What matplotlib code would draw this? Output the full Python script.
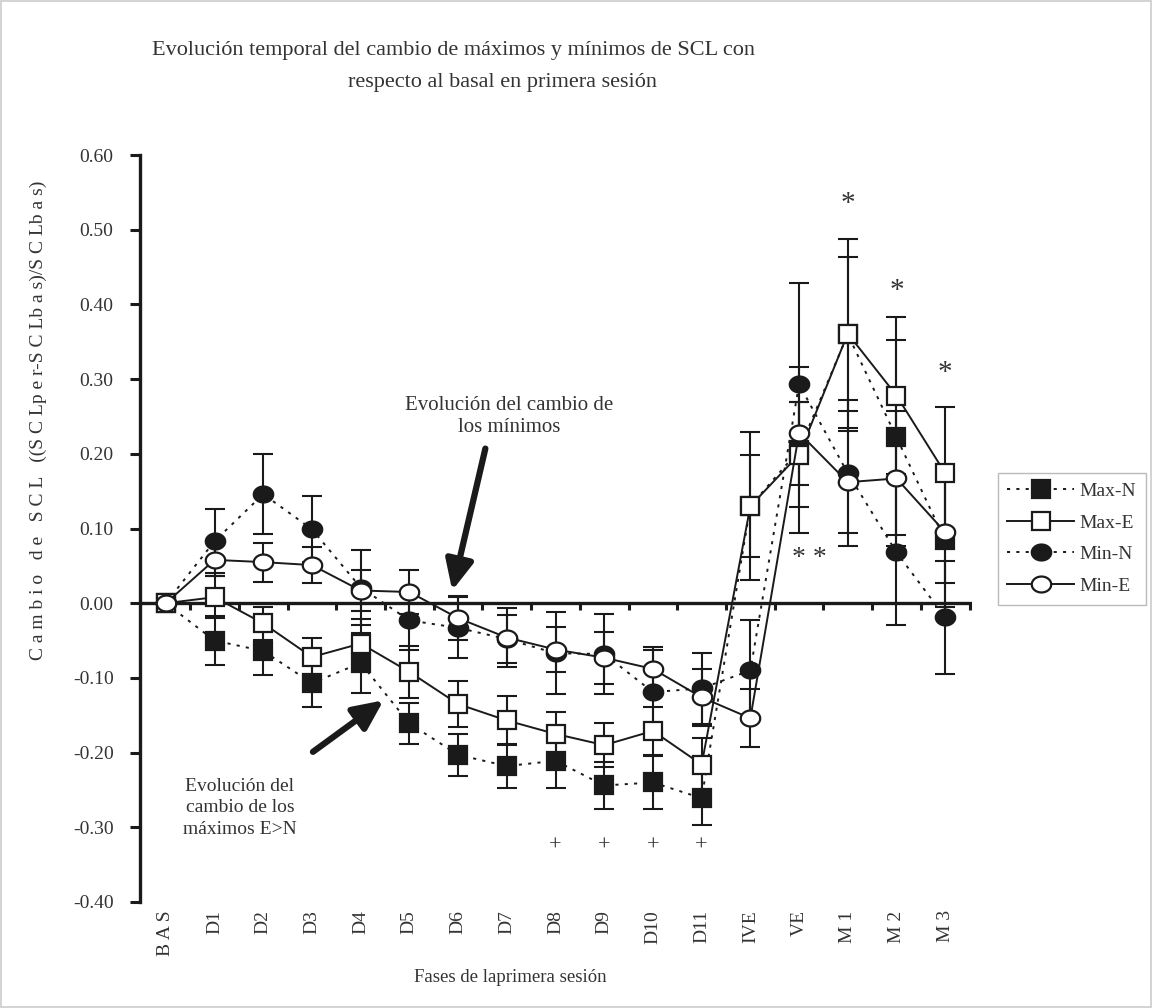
import numpy as np
import matplotlib
matplotlib.use("Agg")
import matplotlib.pyplot as plt
from matplotlib.patches import Rectangle

# ---------------- data ----------------
categories = ['B A S', 'D1', 'D2', 'D3', 'D4', 'D5', 'D6', 'D7', 'D8', 'D9',
              'D10', 'D11', 'IVE', 'VE', 'M 1', 'M 2', 'M 3']

max_n = [0, -0.050, -0.064, -0.107, -0.080, -0.161, -0.203, -0.218, -0.211, -0.244,
         -0.240, -0.261, 0.130, 0.205, 0.360, 0.222, 0.084]
max_n_err = [0, 0.033, 0.032, 0.032, 0.040, 0.027, 0.028, 0.030, 0.037, 0.032,
             0.036, 0.036, 0.068, 0.111, 0.103, 0.131, 0.089]

max_e = [0, 0.008, -0.027, -0.072, -0.054, -0.092, -0.135, -0.157, -0.175, -0.190,
         -0.171, -0.216, 0.130, 0.199, 0.361, 0.278, 0.174]
max_e_err = [0, 0.028, 0.022, 0.025, 0.033, 0.035, 0.031, 0.033, 0.030, 0.029,
             0.032, 0.035, 0.099, 0.070, 0.126, 0.105, 0.088]

min_n = [0, 0.083, 0.146, 0.099, 0.021, -0.023, -0.033, -0.048, -0.067, -0.068,
         -0.119, -0.114, -0.090, 0.293, 0.174, 0.068, -0.019]
min_n_err = [0, 0.043, 0.054, 0.044, 0.050, 0.040, 0.041, 0.032, 0.055, 0.053,
             0.057, 0.048, 0.067, 0.135, 0.098, 0.097, 0.076]

min_e = [0, 0.058, 0.055, 0.051, 0.017, 0.015, -0.020, -0.046, -0.062, -0.073,
         -0.088, -0.126, -0.154, 0.228, 0.162, 0.167, 0.095]
min_e_err = [0, 0.022, 0.026, 0.024, 0.028, 0.029, 0.029, 0.040, 0.030, 0.035,
             0.030, 0.038, 0.039, 0.042, 0.068, 0.090, 0.068]

series_names = ['Max-N', 'Max-E', 'Min-N', 'Min-E']

# significance marks
plus_cats = ['D8', 'D9', 'D10', 'D11']
plus_y = -0.325
star_cats = ['M 1', 'M 2', 'M 3']
star_y = [0.535, 0.418, 0.308]
dstar_cat = 'VE'
dstar_y = 0.060

yticks = [-0.40, -0.30, -0.20, -0.10, 0.00, 0.10, 0.20, 0.30, 0.40, 0.50, 0.60]

# ---------------- style ----------------
TXT = '#333333'
INK = '#1a1a1a'
plt.rcParams['font.family'] = ['Liberation Serif', 'DejaVu Serif']

fig = plt.figure(figsize=(11.52, 10.08), dpi=100)
ax = fig.add_axes([140/1152, 1-902/1008, (972-140)/1152, (902-155)/1008])

x = np.arange(len(categories))
ymin, ymax = -0.40, 0.60
ax.set_ylim(ymin, ymax)
ax.set_xlim(-0.53, 16.55)

theta = np.linspace(0, 2*np.pi, 60)
ellipse = np.column_stack([np.cos(theta), 0.82*np.sin(theta)])

dot_ls = (0, (1.6, 3.2))
styles = {
    'Max-N': dict(ls=dot_ls, marker='s', mfc=INK, ms=12.5, z=3),
    'Min-N': dict(ls=dot_ls, marker=ellipse, mfc=INK, ms=14, z=3),
    'Max-E': dict(ls='-', marker='s', mfc='white', ms=12.5, z=4),
    'Min-E': dict(ls='-', marker=ellipse, mfc='white', ms=14, z=5),
}
data = {'Max-N': (max_n, max_n_err), 'Max-E': (max_e, max_e_err),
        'Min-N': (min_n, min_n_err), 'Min-E': (min_e, min_e_err)}

# zero line and its ticks
ax.axhline(0, color=INK, lw=2.4, zorder=1)
bounds = np.append(x[:-1] + 0.5, x[-1] + 0.5)
ax.plot(bounds, np.zeros_like(bounds), ls='none', marker=3, ms=5, mew=2.2,
        color=INK, zorder=1)

handles = {}
for name in ['Max-N', 'Min-N', 'Max-E', 'Min-E']:
    vals, errs = data[name]
    st = styles[name]
    ax.errorbar(x, vals, yerr=errs, fmt='none', ecolor=INK, elinewidth=1.5,
                capsize=7, capthick=1.5, zorder=2)
    ln, = ax.plot(x, vals, ls=st['ls'], color=INK, lw=1.4, marker=st['marker'],
                  mfc=st['mfc'], mec=INK, mew=1.6, ms=st['ms'], zorder=st['z'])
    handles[name] = ln

# significance annotations
for c in plus_cats:
    ax.text(categories.index(c), plus_y, '+', ha='center', va='center',
            fontsize=16, color=TXT)
for c, yv in zip(star_cats, star_y):
    ax.text(categories.index(c), yv, '*', ha='center', va='center',
            fontsize=21, color=TXT)
ax.text(categories.index(dstar_cat) + 0.22, dstar_y, '* *', ha='center', va='center',
        fontsize=20, color=TXT)

# arrows + explanatory text
ax.annotate('', xy=(5.88, 0.017), xytext=(6.56, 0.207),
            arrowprops=dict(arrowstyle='-|>,head_length=0.9,head_width=0.42',
                            lw=4.5, color=INK, mutation_scale=20, shrinkA=0, shrinkB=0))
ax.annotate('', xy=(4.47, -0.130), xytext=(3.02, -0.199),
            arrowprops=dict(arrowstyle='-|>,head_length=0.9,head_width=0.42',
                            lw=4.5, color=INK, mutation_scale=20, shrinkA=0, shrinkB=0))
ax.text(7.05, 0.250, 'Evolución del cambio de\nlos mínimos', ha='center', va='center',
        fontsize=15, color=TXT, linespacing=1.2)
ax.text(1.52, -0.274, 'Evolución del\ncambio de los\nmáximos E>N', ha='center', va='center',
        fontsize=14, color=TXT, linespacing=1.32)

# axes styling
for s in ['top', 'right', 'bottom']:
    ax.spines[s].set_visible(False)
ax.spines['left'].set_linewidth(2.4)
ax.spines['left'].set_color(INK)
ax.set_yticks(yticks)
ax.set_yticklabels([f'{v:.2f}' for v in yticks])
ax.tick_params(axis='y', direction='out', length=7, width=2.2, color=INK,
               labelsize=14, labelcolor=TXT, pad=12)
ax.set_xticks(x)
ax.set_xticklabels(categories, rotation=90)
ax.tick_params(axis='x', length=0, labelsize=14, labelcolor=TXT, pad=6)

# legend
leg = fig.legend([handles[n] for n in series_names], series_names,
                 loc='upper left', bbox_to_anchor=(988/1152, 1-463/1008),
                 bbox_transform=fig.transFigure, frameon=True, fancybox=False,
                 fontsize=14, handlelength=3.4, labelspacing=0.72,
                 borderpad=0.5, handletextpad=0.3, labelcolor=TXT)
leg.get_frame().set_edgecolor('#aaaaaa')
leg.get_frame().set_linewidth(1.0)

# titles and labels
fig.text(454/1152, 1-50/1008,
         'Evolución temporal del cambio de máximos y mínimos de SCL con',
         ha='center', va='center', fontsize=16, color=TXT)
fig.text(502/1152, 1-82/1008, 'respecto al basal en primera sesión',
         ha='center', va='center', fontsize=16, color=TXT)
fig.text(38/1152, 1-420/1008,
         'C a m b i o   d e   S C L   ((S C Lp e r-S C Lb a s)/S C Lb a s)',
         rotation=90, ha='center', va='center', fontsize=14, color=TXT)
fig.text(510/1152, 1-978/1008, 'Fases de laprimera sesión',
         ha='center', va='center', fontsize=13.5, color=TXT)

fig.patches.append(Rectangle((0.0005, 0.0005), 0.999, 0.999, transform=fig.transFigure,
                             fill=False, edgecolor='#cccccc', lw=1.2))

fig.savefig('out.png', dpi=100)
